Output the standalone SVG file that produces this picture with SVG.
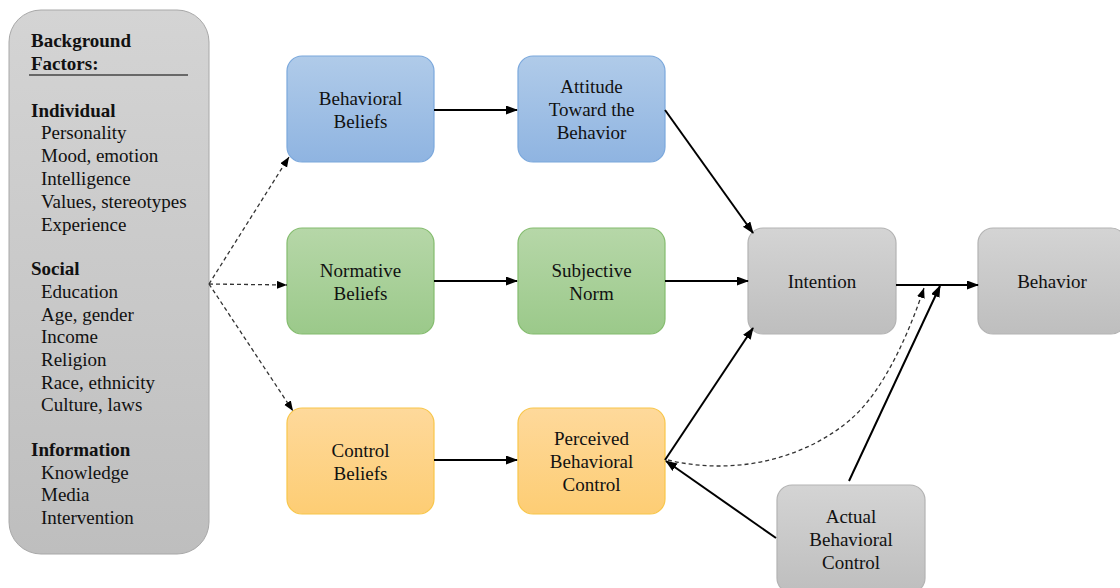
<svg xmlns="http://www.w3.org/2000/svg" width="1120" height="588" viewBox="0 0 1120 588">
<style>
text{font-family:"Liberation Serif","Times New Roman",serif;font-size:19px;fill:#111}
.b{font-weight:bold}
.c{text-anchor:middle}
.sol{fill:none;stroke:#000;stroke-width:2}
.dash{fill:none;stroke:#333;stroke-width:1.3;stroke-dasharray:4 3}
</style>
<defs>
<linearGradient id="gGray" x1="0" y1="0" x2="0" y2="1"><stop offset="0" stop-color="#d4d4d4"/><stop offset="1" stop-color="#bebebe"/></linearGradient>
<linearGradient id="gBlue" x1="0" y1="0" x2="0" y2="1"><stop offset="0" stop-color="#b0cbe9"/><stop offset="1" stop-color="#8fb4e1"/></linearGradient>
<linearGradient id="gGreen" x1="0" y1="0" x2="0" y2="1"><stop offset="0" stop-color="#b6d7a8"/><stop offset="1" stop-color="#9bc98a"/></linearGradient>
<linearGradient id="gOrange" x1="0" y1="0" x2="0" y2="1"><stop offset="0" stop-color="#fed99b"/><stop offset="1" stop-color="#fdcd74"/></linearGradient>
<marker id="ah" markerUnits="userSpaceOnUse" markerWidth="12" markerHeight="10" refX="11" refY="4.5" orient="auto"><path d="M0,0 L12,4.5 L0,9 z" fill="#000"/></marker>
<marker id="ahs" markerUnits="userSpaceOnUse" markerWidth="11" markerHeight="9" refX="10" refY="4" orient="auto"><path d="M0,0 L10,4 L0,8 z" fill="#000"/></marker>
</defs>

<g id="background">
<rect x="9" y="10" width="200" height="544" rx="32" fill="url(#gGray)" stroke="#a8a8a8" stroke-width="1"/>
<text x="31" y="47" class="b">Background</text>
<text x="31" y="70" class="b">Factors:</text>
<line x1="29" y1="75" x2="188" y2="75" stroke="#444" stroke-width="1.5"/>
<text x="31" y="117" class="b">Individual</text>
<text x="41" y="139">Personality</text>
<text x="41" y="162">Mood, emotion</text>
<text x="41" y="185">Intelligence</text>
<text x="41" y="208">Values, stereotypes</text>
<text x="41" y="231">Experience</text>
<text x="31" y="275" class="b">Social</text>
<text x="41" y="298">Education</text>
<text x="41" y="321">Age, gender</text>
<text x="41" y="343">Income</text>
<text x="41" y="366">Religion</text>
<text x="41" y="389">Race, ethnicity</text>
<text x="41" y="411">Culture, laws</text>
<text x="31" y="456" class="b">Information</text>
<text x="41" y="479">Knowledge</text>
<text x="41" y="501">Media</text>
<text x="41" y="524">Intervention</text>
</g>

<g id="behavioral-beliefs">
<rect x="287" y="56" width="147" height="106" rx="15" fill="url(#gBlue)" stroke="#7ba8dc" stroke-width="1.2"/>
<text x="360.5" y="105" class="c">Behavioral</text>
<text x="360.5" y="128" class="c">Beliefs</text>
</g>
<g id="attitude">
<rect x="518" y="56" width="147" height="106" rx="15" fill="url(#gBlue)" stroke="#7ba8dc" stroke-width="1.2"/>
<text x="591.5" y="93" class="c">Attitude</text>
<text x="591.5" y="116" class="c">Toward the</text>
<text x="591.5" y="139" class="c">Behavior</text>
</g>
<g id="normative-beliefs">
<rect x="287" y="228" width="147" height="106" rx="15" fill="url(#gGreen)" stroke="#84bc6e" stroke-width="1.2"/>
<text x="360.5" y="277" class="c">Normative</text>
<text x="360.5" y="300" class="c">Beliefs</text>
</g>
<g id="subjective-norm">
<rect x="518" y="228" width="147" height="106" rx="15" fill="url(#gGreen)" stroke="#84bc6e" stroke-width="1.2"/>
<text x="591.5" y="277" class="c">Subjective</text>
<text x="591.5" y="300" class="c">Norm</text>
</g>
<g id="control-beliefs">
<rect x="287" y="408" width="147" height="106" rx="15" fill="url(#gOrange)" stroke="#f8c64a" stroke-width="1.2"/>
<text x="360.5" y="457" class="c">Control</text>
<text x="360.5" y="480" class="c">Beliefs</text>
</g>
<g id="perceived-control">
<rect x="518" y="408" width="147" height="106" rx="15" fill="url(#gOrange)" stroke="#f8c64a" stroke-width="1.2"/>
<text x="591.5" y="445" class="c">Perceived</text>
<text x="591.5" y="468" class="c">Behavioral</text>
<text x="591.5" y="491" class="c">Control</text>
</g>
<g id="intention">
<rect x="748" y="228" width="148" height="106" rx="15" fill="url(#gGray)" stroke="#b3b3b3" stroke-width="1.2"/>
<text x="822" y="288" class="c">Intention</text>
</g>
<g id="behavior">
<rect x="978" y="228" width="148" height="106" rx="15" fill="url(#gGray)" stroke="#b3b3b3" stroke-width="1.2"/>
<text x="1052" y="288" class="c">Behavior</text>
</g>
<g id="actual-control">
<rect x="777" y="485" width="148" height="108" rx="15" fill="url(#gGray)" stroke="#b3b3b3" stroke-width="1.2"/>
<text x="851" y="523" class="c">Actual</text>
<text x="851" y="546" class="c">Behavioral</text>
<text x="851" y="569" class="c">Control</text>
</g>

<g id="connectors">
<line class="dash" x1="209" y1="284" x2="289" y2="157" marker-end="url(#ahs)"/>
<line class="dash" x1="209" y1="284" x2="287" y2="285" marker-end="url(#ahs)"/>
<line class="dash" x1="209" y1="284" x2="293" y2="411" marker-end="url(#ahs)"/>
<line class="sol" x1="434" y1="110" x2="517" y2="110" marker-end="url(#ah)"/>
<line class="sol" x1="434" y1="281" x2="517" y2="281" marker-end="url(#ah)"/>
<line class="sol" x1="434" y1="460" x2="517" y2="460" marker-end="url(#ah)"/>
<line class="sol" x1="665" y1="110" x2="753" y2="233" marker-end="url(#ah)"/>
<line class="sol" x1="665" y1="281" x2="748" y2="281" marker-end="url(#ah)"/>
<line class="sol" x1="665" y1="460" x2="753" y2="328" marker-end="url(#ah)"/>
<line class="sol" x1="896" y1="285" x2="978" y2="285" marker-end="url(#ah)"/>
<line class="sol" x1="849" y1="481" x2="940" y2="286" marker-end="url(#ah)"/>
<line class="sol" x1="776" y1="538" x2="666" y2="461" marker-end="url(#ah)"/>
<path class="dash" d="M668,460 C730,475 800,462 850,420 C885,390 910,330 924,288" marker-end="url(#ahs)"/>
</g>
</svg>
